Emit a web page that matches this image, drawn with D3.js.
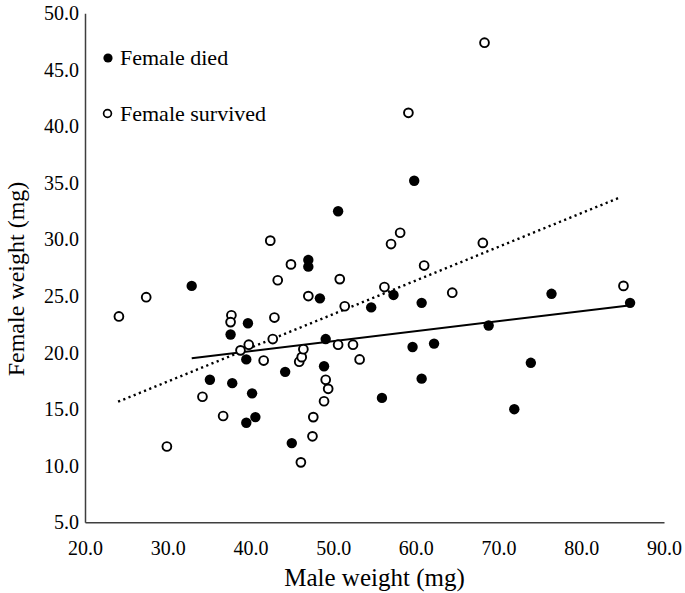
<!DOCTYPE html>
<html>
<head>
<meta charset="utf-8">
<script src="https://cdn.jsdelivr.net/npm/d3@7/dist/d3.min.js"></script>
<style>
  html, body { margin: 0; padding: 0; background: #fff; }
  svg { display: block; }
  text { font-family: "Liberation Serif", "Times New Roman", Times, "DejaVu Serif", serif; fill: #000; }
</style>
</head>
<body>
<svg id="chart" width="685" height="593"></svg>
<script>
// ---- data ----
const diedMale = [32.9, 37.6, 39.7, 39.5, 44.2, 35.1, 37.8, 40.2, 40.6, 39.5, 45.0, 47.0, 47.0, 48.4, 49.1, 48.9, 50.6, 54.6, 57.3, 59.8, 59.6, 60.7, 60.7, 62.2, 55.9, 68.8, 73.9, 71.9, 76.4, 85.9];
const diedFemale = [25.9, 21.6, 22.6, 19.4, 18.3, 17.6, 17.3, 16.4, 14.3, 13.8, 12.0, 28.2, 27.6, 24.8, 21.2, 18.8, 32.5, 24.0, 25.1, 35.2, 20.5, 24.4, 17.7, 20.8, 16.0, 22.4, 19.1, 15.0, 25.2, 24.4];
const survMale = [24.1, 27.4, 29.9, 34.2, 36.7, 37.7, 37.6, 38.8, 39.8, 41.6, 42.4, 42.7, 42.9, 43.3, 44.9, 45.9, 46.2, 46.4, 46.1, 47.0, 47.6, 47.5, 48.9, 49.1, 49.4, 50.8, 50.6, 51.4, 52.4, 53.2, 56.2, 57.0, 58.1, 59.1, 61.0, 64.4, 68.1, 68.3, 85.1];
const survFemale = [23.2, 24.9, 11.7, 16.1, 14.4, 23.3, 22.7, 20.2, 20.7, 19.3, 29.9, 21.2, 23.1, 26.4, 27.8, 19.2, 19.6, 20.3, 10.3, 25.0, 14.3, 12.6, 15.7, 17.6, 16.8, 26.5, 20.7, 24.1, 20.7, 19.4, 25.8, 29.6, 30.6, 41.2, 27.7, 25.3, 29.7, 47.4, 25.9];
// trendlines as drawn in the reference (end points, data units)
const survTrendX = [24.0, 84.6];
const survTrendY = [15.66, 33.70];
const diedTrendX = [32.9, 85.5];
const diedTrendY = [19.50, 24.15];
const xTicks = [20, 30, 40, 50, 60, 70, 80, 90];
const yTicks = [5, 10, 15, 20, 25, 30, 35, 40, 45, 50];
const legendLabels = ["Female died", "Female survived"];
const xTitle = "Male weight (mg)";
const yTitle = "Female weight (mg)";

// ---- layout ----
const svg = d3.select("#chart");
const x = d3.scaleLinear().domain([20, 90]).range([85, 664]);
const y = d3.scaleLinear().domain([5, 50]).range([522.3, 13.3]);
const fmt = d => d.toFixed(1);
const FONT = "Liberation Serif, Times New Roman, Times, DejaVu Serif, serif";

// axes
const xAxis = svg.append("g").attr("transform", `translate(0,${y(5)})`)
  .call(d3.axisBottom(x).tickValues(xTicks).tickFormat(fmt).tickSize(0).tickSizeOuter(0).tickPadding(19));
const yAxis = svg.append("g").attr("transform", `translate(${x(20)},0)`)
  .call(d3.axisLeft(y).tickValues(yTicks).tickFormat(fmt).tickSize(0).tickSizeOuter(0).tickPadding(6));
[xAxis, yAxis].forEach(a => {
  a.attr("font-family", FONT);
  a.select(".domain").attr("stroke", "#3f3f3f").attr("stroke-width", 1.5);
  a.selectAll("text").attr("font-family", FONT).attr("font-size", 20).attr("fill", "#000");
});

// axis titles
svg.append("text").attr("x", (x(20) + x(90)) / 2).attr("y", 586)
  .attr("text-anchor", "middle").attr("font-size", 25).text(xTitle);
svg.append("text").attr("transform", `translate(24,${279}) rotate(-90)`)
  .attr("text-anchor", "middle").attr("font-size", 24).text(yTitle);

// trendlines
const line = d3.line().x(d => x(d[0])).y(d => y(d[1]));
svg.append("path").datum(survTrendX.map((v, i) => [v, survTrendY[i]])).attr("d", line)
  .attr("fill", "none").attr("stroke", "#000").attr("stroke-width", 2.4)
  .attr("stroke-dasharray", "2.2 3.4");
svg.append("path").datum(diedTrendX.map((v, i) => [v, diedTrendY[i]])).attr("d", line)
  .attr("fill", "none").attr("stroke", "#000").attr("stroke-width", 2);

// points
const surv = survMale.map((m, i) => [m, survFemale[i]]);
const died = diedMale.map((m, i) => [m, diedFemale[i]]);
svg.append("g").selectAll("circle").data(surv).join("circle")
  .attr("cx", d => x(d[0])).attr("cy", d => y(d[1])).attr("r", 4.4)
  .attr("fill", "#fff").attr("stroke", "#000").attr("stroke-width", 1.9);
svg.append("g").selectAll("circle").data(died).join("circle")
  .attr("cx", d => x(d[0])).attr("cy", d => y(d[1])).attr("r", 5.2)
  .attr("fill", "#000");

// legend
const lg = svg.append("g");
lg.append("circle").attr("cx", 108).attr("cy", 58).attr("r", 4.6).attr("fill", "#000");
lg.append("text").attr("x", 120).attr("y", 65).attr("font-size", 22).text(legendLabels[0]);
lg.append("circle").attr("cx", 107.5).attr("cy", 113.5).attr("r", 3.9)
  .attr("fill", "#fff").attr("stroke", "#000").attr("stroke-width", 1.7);
lg.append("text").attr("x", 120).attr("y", 121).attr("font-size", 22).text(legendLabels[1]);
</script>
</body>
</html>
